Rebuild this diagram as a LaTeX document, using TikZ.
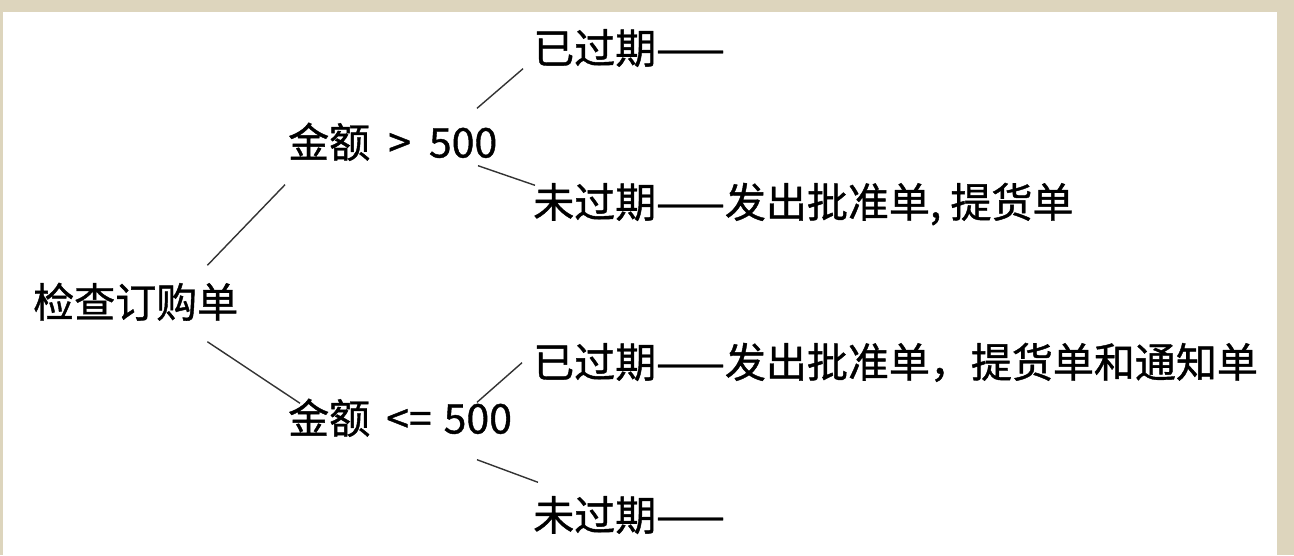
\documentclass[tikz,border=0pt]{standalone}
\usepackage{fontspec}
\setmainfont[FakeBold=1]{Noto Sans CJK SC}
\definecolor{frame}{HTML}{DDD5BD}

\begin{document}
\begin{tikzpicture}
  [x=1pt,y=-1pt,
   every node/.style={anchor=west,inner sep=0pt,text height=36pt,text depth=5pt,font=\fontsize{41}{50}\selectfont},
   branch/.style={line width=1.4pt,black!80}]

  \useasboundingbox (0,0) rectangle (1294,555);
  \fill[frame] (0,0) rectangle (1294,555);
  \fill[white] (3,12) rectangle (1277,555);

  \node (root) at (33,302) {检查订购单};
  \node (hi) at (288,142) {金额\hspace{18pt}>\hspace{18pt}500};
  \node (lo) at (288,418) {金额\hspace{16pt}<=\hspace{12pt}500};
  \node (hi1) at (533,48) {已过期——};
  \node (hi2) at (533,202) {未过期——发出批准单, 提货单};
  \node (lo1) at (533,362) {已过期——发出批准单，提货单和通知单};
  \node (lo2) at (533,515) {未过期——};

  \draw[branch] ([shift={(-31,-16)}]root.north east) -- ([shift={(-3,22)}]hi.south west);
  \draw[branch] ([shift={(-31,19)}]root.south east) -- ([shift={(12,6)}]lo.north west);
  \draw[branch] ([shift={(189,-13)}]hi.north west) -- ([shift={(-10,0)}]hi1.south west);
  \draw[branch] ([shift={(190,3)}]hi.south west) -- ([shift={(2,4)}]hi2.north west);
  \draw[branch] ([shift={(189,5)}]lo.north west) -- ([shift={(-11,-20)}]lo1.south west);
  \draw[branch] ([shift={(189,21)}]lo.south west) -- ([shift={(5,-12)}]lo2.north west);

\end{tikzpicture}
\end{document}
